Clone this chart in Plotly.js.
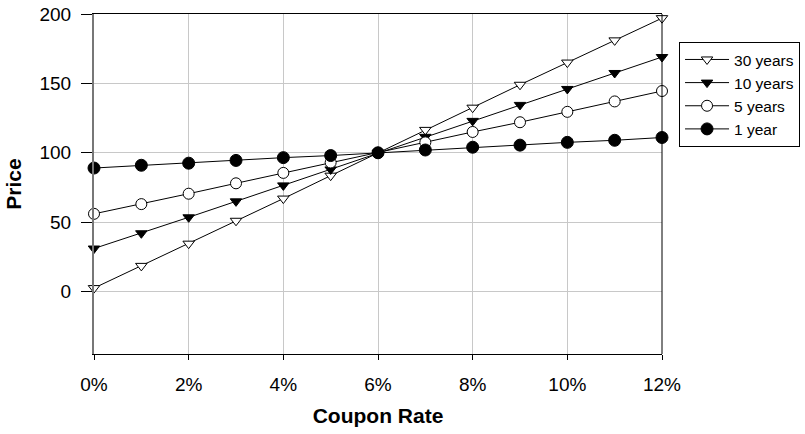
<!DOCTYPE html>
<html>
<head>
<meta charset="utf-8">
<script src="https://cdn.plot.ly/plotly-3.0.1.min.js"></script>
<style>html,body{margin:0;padding:0;background:#fff;overflow:hidden;}#chart{width:805px;height:434px;}</style>
</head>
<body>
<div id="chart"></div>
<script>
const couponRates = [0, 1, 2, 3, 4, 5, 6, 7, 8, 9, 10, 11, 12];
const price30y = [2.5, 18.5, 34.5, 51, 67, 83.5, 100, 116.5, 132.5, 149, 165, 181, 197];
const price10y = [31, 42, 53.5, 65, 76.5, 88, 100, 111.5, 123, 134.5, 146, 157.5, 169];
const price5y = [56, 63, 70.5, 78, 85.5, 93, 100, 107.5, 115, 122, 129.5, 137, 144.5];
const price1y = [89, 91, 92.5, 94.5, 96.5, 98, 100, 102, 104, 105.5, 107.5, 109, 111];
const xTickVals = [0, 2, 4, 6, 8, 10, 12];
const xTickText = ['0%', '2%', '4%', '6%', '8%', '10%', '12%'];
const yTickVals = [0, 50, 100, 150, 200];
const yTickText = ['0', '50', '100', '150', '200'];

const line = {color: '#000', width: 1};
const traces = [
  {name: '30 years', x: couponRates, y: price30y, mode: 'lines+markers', line: line,
   marker: {symbol: 'triangle-down', size: 10, color: '#fff', line: {color: '#000', width: 1}}},
  {name: '10 years', x: couponRates, y: price10y, mode: 'lines+markers', line: line,
   marker: {symbol: 'triangle-down', size: 10, color: '#000', line: {color: '#000', width: 1}}},
  {name: '5 years', x: couponRates, y: price5y, mode: 'lines+markers', line: line,
   marker: {symbol: 'circle', size: 11, color: '#fff', line: {color: '#000', width: 1}}},
  {name: '1 year', x: couponRates, y: price1y, mode: 'lines+markers', line: line,
   marker: {symbol: 'circle', size: 12, color: '#000', line: {color: '#000', width: 1}}}
];
traces.forEach(t => t.cliponaxis = false);

const layout = {
  width: 805, height: 434,
  margin: {l: 94, r: 143, t: 14, b: 80, autoexpand: false},
  paper_bgcolor: '#fff', plot_bgcolor: '#fff',
  font: {family: 'Liberation Sans, Arial, sans-serif', color: '#000', size: 19},
  showlegend: true,
  legend: {x: 1.03, y: 0.918, xanchor: 'left', yanchor: 'top',
           bordercolor: '#000', borderwidth: 1, bgcolor: '#fff',
           font: {size: 15.5, family: 'Liberation Sans, Arial, sans-serif'},
           itemwidth: 44, entrywidth: 140},
  xaxis: {range: [0, 12], tickmode: 'array', tickvals: xTickVals, ticktext: xTickText,
          showgrid: true, gridcolor: '#c8c8c8', gridwidth: 1,
          showline: true, linecolor: '#000', linewidth: 1, mirror: true,
          ticks: 'outside', ticklen: 5, tickcolor: '#000', ticklabelstandoff: 8,
          zeroline: false, tickfont: {size: 19, family: 'Liberation Sans, Arial, sans-serif'},
          title: {text: 'Coupon Rate', font: {size: 21, weight: 'bold', family: 'Liberation Sans, Arial, sans-serif'}, standoff: 14}},
  yaxis: {range: [-45, 200], tickmode: 'array', tickvals: yTickVals, ticktext: yTickText,
          showgrid: true, gridcolor: '#c8c8c8', gridwidth: 1,
          showline: true, linecolor: '#777', linewidth: 2,
          ticks: 'outside', ticklen: 11, tickcolor: '#000', ticklabelstandoff: 6,
          zeroline: false, tickfont: {size: 19, family: 'Liberation Sans, Arial, sans-serif'},
          title: {text: 'Price', font: {size: 21, weight: 'bold', family: 'Liberation Sans, Arial, sans-serif'}, standoff: 12}},
  shapes: [
    {type: 'line', xref: 'paper', yref: 'paper', x0: 1, x1: 1, y0: 0, y1: 1,
     line: {color: '#000', width: 1}}
  ]
};

Plotly.newPlot('chart', traces, layout, {displayModeBar: false, staticPlot: true});
</script>
</body>
</html>
